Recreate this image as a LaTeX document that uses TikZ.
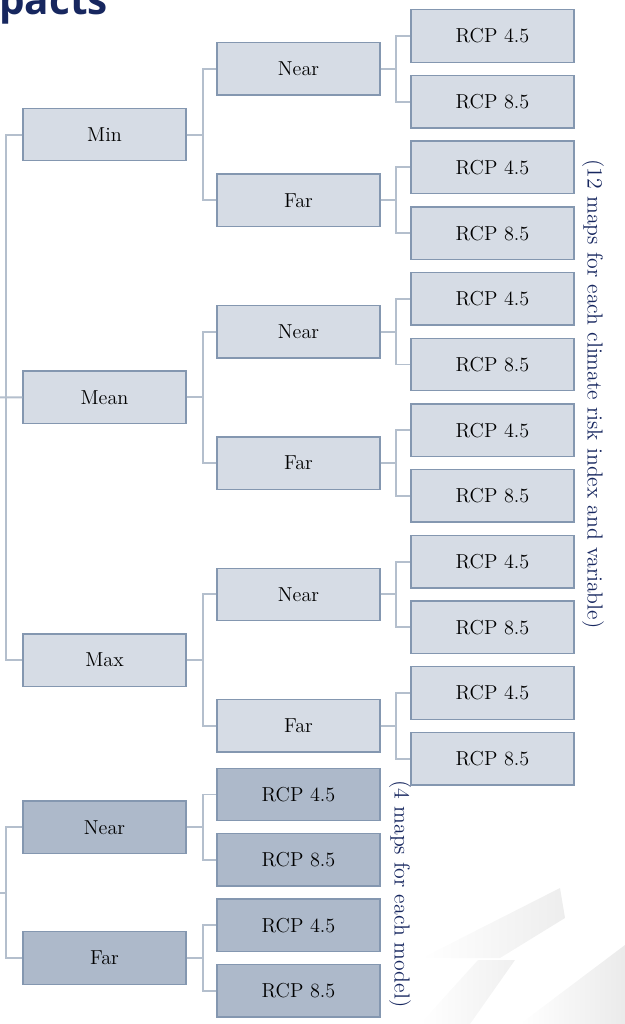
\documentclass[tikz,border=0pt]{standalone}
\usepackage{fontspec}
\newfontfamily\titlefont{Open Sans}
\definecolor{boxfill}{HTML}{D6DCE5}
\definecolor{boxdark}{HTML}{ADB9CA}
\definecolor{boxline}{HTML}{8497B0}
\definecolor{connline}{HTML}{B4BFCD}
\definecolor{navytext}{HTML}{17275F}
\tikzset{
    box/.style={draw=boxline, line width=0.8pt, fill=boxfill, minimum width=3.26cm, minimum height=1.05cm, inner sep=0pt, font=\fontsize{11.5}{13}\selectfont},
    darkbox/.style={box, fill=boxdark},
    conn/.style={draw=connline, line width=1.1pt},
    sidenote/.style={rotate=-90, text=navytext, font=\fontsize{12.4}{14}\selectfont}
}
\begin{document}
\begin{tikzpicture}[x=0.02cm, y=-0.02cm]
    \useasboundingbox (0,0) rectangle (625,1024);

    % watermark
    \shade[left color=white, right color=black!7] (422,958) -- (560,888) -- (565,918) -- (500,958) -- cycle;
    \shade[left color=white, right color=black!6] (420,1024) -- (478,960) -- (515,960) -- (470,1024) -- cycle;
    \shade[left color=white, right color=black!8] (520,1024) -- (625,945) -- (625,1024) -- cycle;

    % title
    \node[anchor=base west, inner sep=0pt, text=navytext, font=\titlefont\bfseries\fontsize{23}{26}\selectfont] (title) at (-1,15) {pacts};

    % Min / Mean / Max
    \foreach \s [count=\i from 0] in {Min,Mean,Max} {
        \node[box] (\s) at (104.5,{36+65.7*(4*\i+1.5)}) {\s};
        \foreach \t [count=\j from 0] in {Near,Far} {
            \node[box] (\s\t) at (298.5,{36+65.7*(4*\i+2*\j+0.5)}) {\t};
            \draw[conn] (\s.east) -- ++(16,0) |- (\s\t.west);
            \foreach \r/\rn [count=\k from 0] in {4.5/a,8.5/b} {
                \node[box] (\s\t\rn) at (492.5,{36+65.7*(4*\i+2*\j+\k)}) {RCP \r};
                \draw[conn] (\s\t.east) -- ++(15,0) |- (\s\t\rn.west);
            }
        }
    }
    \coordinate (rootA) at (0,397.3);
    \draw[conn] (rootA) -- (Mean.west);
    \draw[conn] (Min.west) -- ++(-16,0) |- (Max.west);

    \node[sidenote] (noteA) at (593,394) {(12 maps for each climate risk index and variable)};

    % per model
    \foreach \t [count=\j from 0] in {Near,Far} {
        \node[darkbox] (mod\t) at (104.5,{794.5+65.4*(2*\j+0.5)}) {\t};
        \foreach \r/\rn [count=\k from 0] in {4.5/a,8.5/b} {
            \node[darkbox] (mod\t\rn) at (298.5,{794.5+65.4*(2*\j+\k)}) {RCP \r};
            \draw[conn] (mod\t.east) -- ++(16,0) |- (mod\t\rn.west);
        }
    }
    \coordinate (rootB) at (0,893);
    \draw[conn] (rootB) -- ++(7,0);
    \draw[conn] (modNear.west) -- ++(-16,0) |- (modFar.west);

    \node[sidenote] (noteB) at (400,894) {(4 maps for each model)};
\end{tikzpicture}
\end{document}
